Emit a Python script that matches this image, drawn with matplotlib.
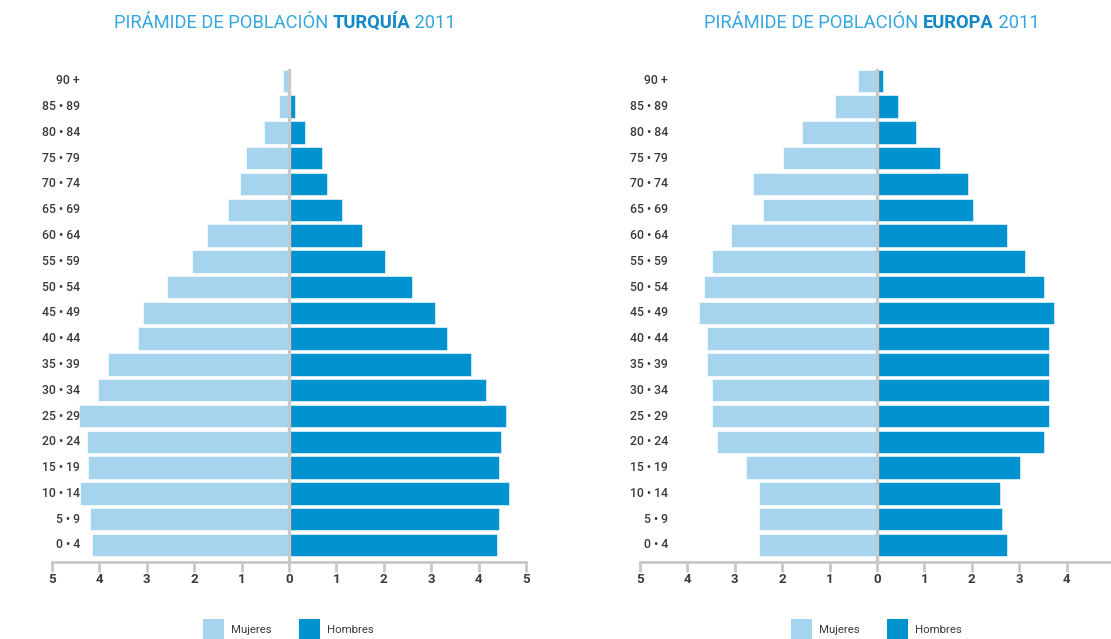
import matplotlib
matplotlib.use("Agg")
import matplotlib.pyplot as plt
from matplotlib.patches import Rectangle

ages = ['0 • 4', '5 • 9', '10 • 14', '15 • 19', '20 • 24', '25 • 29', '30 • 34',
        '35 • 39', '40 • 44', '45 • 49', '50 • 54', '55 • 59', '60 • 64',
        '65 • 69', '70 • 74', '75 • 79', '80 • 84', '85 • 89', '90 +']

# % de poblacion por grupo de edad (0-4 ... 90+)
turquia_mujeres = [4.16, 4.19, 4.40, 4.23, 4.26, 4.44, 4.02, 3.81, 3.19, 3.09,
                   2.57, 2.05, 1.73, 1.28, 1.04, 0.91, 0.53, 0.22, 0.12]
turquia_hombres = [4.39, 4.44, 4.64, 4.44, 4.47, 4.58, 4.16, 3.85, 3.34, 3.09,
                   2.60, 2.02, 1.55, 1.12, 0.80, 0.70, 0.33, 0.13, 0.0]
europa_mujeres = [2.49, 2.49, 2.49, 2.76, 3.38, 3.49, 3.49, 3.59, 3.59, 3.75,
                  3.65, 3.48, 3.08, 2.40, 2.61, 1.99, 1.58, 0.89, 0.41]
europa_hombres = [2.74, 2.64, 2.60, 3.02, 3.52, 3.63, 3.63, 3.63, 3.63, 3.73,
                  3.52, 3.12, 2.74, 2.03, 1.92, 1.33, 0.82, 0.44, 0.13]

ticks = [-5, -4, -3, -2, -1, 0, 1, 2, 3, 4, 5]
tick_labels = ['5', '4', '3', '2', '1', '0', '1', '2', '3', '4', '5']

C_MUJ = '#a6d4ee'
C_HOM = '#0093d0'
C_GRIS = '#c8c8c8'
C_TXT = '#3a3a3a'
C_TIT = '#36a7de'
C_TIT_B = '#1188c8'

plt.rcParams['font.family'] = ['Roboto', 'DejaVu Sans']

W, H = 1111, 639
fig = plt.figure(figsize=(W / 100, H / 100), dpi=100)


def pyramid(left_px, mujeres, hombres, pais, title_cx, legend_x):
    ax = fig.add_axes([left_px / W, (H - 562) / H, 474 / W, (562 - 69) / H])
    y = list(range(len(ages)))
    neg = [-v for v in mujeres]
    ax.barh(y, neg, height=0.87, color=C_MUJ, edgecolor='white', linewidth=0.4, zorder=2)
    ax.barh(y, hombres, height=0.87, color=C_HOM, edgecolor='white', linewidth=0.4, zorder=2)
    ax.axvline(0, color=C_GRIS, lw=2.4, zorder=3)
    ax.set_xlim(-5, 5)
    ax.set_ylim(-0.66, 18.46)
    for s in ['top', 'right', 'left']:
        ax.spines[s].set_visible(False)
    ax.spines['bottom'].set_color(C_GRIS)
    ax.spines['bottom'].set_linewidth(2)
    ax.set_yticks([])
    ax.set_xticks(ticks)
    ax.set_xticklabels(tick_labels)
    ax.tick_params(axis='x', colors=C_GRIS, width=2, length=7, pad=1,
                   labelcolor=C_TXT, labelsize=9.5)
    for lab in ax.get_xticklabels():
        lab.set_fontweight('bold')
    for i, a in enumerate(ages):
        ax.text(-4.41, i, a, ha='right', va='center', fontsize=8.8,
                color=C_TXT, fontweight='medium')

    # titulo en tres trozos
    parts = [('PIRÁMIDE DE POBLACIÓN ', 'normal', C_TIT),
             (pais, 'bold', C_TIT_B),
             (' 2011', 'normal', C_TIT)]
    r = fig.canvas.get_renderer()
    objs = []
    total = 0
    for txt, wt, col in parts:
        t = fig.text(0, 1 - 23 / H, txt, fontsize=13.2, fontweight=wt, color=col,
                     va='center', ha='left', fontstretch='condensed')
        w = t.get_window_extent(r).width
        objs.append((t, w))
        total += w
    x0 = title_cx - total / 2
    for t, w in objs:
        t.set_x(x0 / W)
        x0 += w

    # leyenda
    for k, (lab, col) in enumerate([('Mujeres', C_MUJ), ('Hombres', C_HOM)]):
        px = legend_x + k * 96
        fig.add_artist(Rectangle((px / W, 0), 21 / W, 20 / H, transform=fig.transFigure,
                                 facecolor=col, edgecolor='none'))
        fig.text((px + 28) / W, 1 - 630 / H, lab, fontsize=8.2, color=C_TXT,
                 va='center', ha='left')
    return ax


pyramid(52, turquia_mujeres, turquia_hombres, 'TURQUÍA', 285, 203)
pyramid(640, europa_mujeres, europa_hombres, 'EUROPA', 872, 791)

fig.savefig('out.png', dpi=100, facecolor='white')
